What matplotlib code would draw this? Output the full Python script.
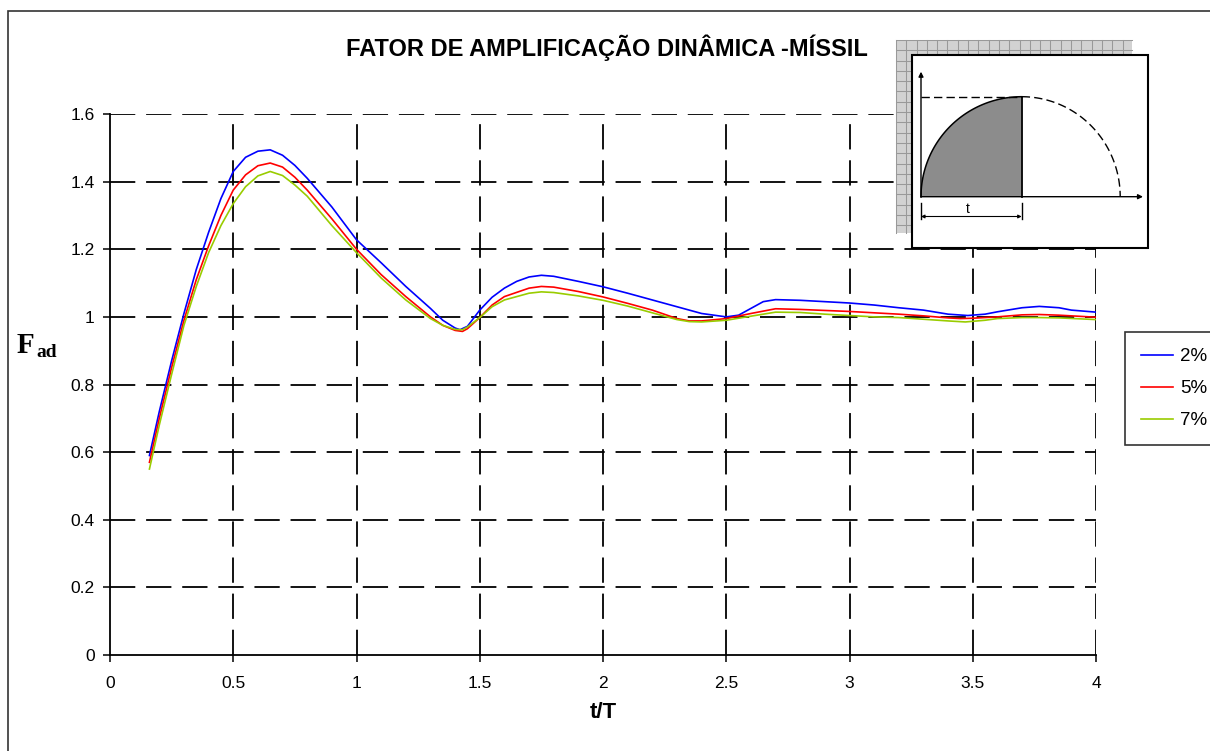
import numpy as np
import matplotlib
matplotlib.use("Agg")
import matplotlib.pyplot as plt
from matplotlib.patches import Rectangle, Polygon

plt.rcParams['font.family'] = ['Liberation Sans', 'DejaVu Sans']

# Dynamic amplification factor vs. t/T for three damping ratios
t_2 = [0.16, 0.20, 0.25, 0.30, 0.35, 0.40, 0.45, 0.50, 0.55, 0.60, 0.65, 0.70,
       0.75, 0.80, 0.90, 1.00, 1.10, 1.20, 1.30, 1.35, 1.40, 1.42, 1.45, 1.50,
       1.55, 1.60, 1.65, 1.70, 1.75, 1.80, 1.90, 2.00, 2.10, 2.20, 2.30, 2.40,
       2.50, 2.55, 2.60, 2.65, 2.70, 2.80, 2.90, 3.00, 3.10, 3.20, 3.30, 3.40,
       3.48, 3.55, 3.60, 3.70, 3.77, 3.85, 3.90, 4.00]
f_2 = [0.59, 0.72, 0.87, 1.01, 1.14, 1.25, 1.35, 1.43, 1.472, 1.490, 1.494, 1.478,
       1.448, 1.41, 1.325, 1.228, 1.16, 1.09, 1.025, 0.99, 0.967, 0.962, 0.972, 1.02,
       1.058, 1.085, 1.105, 1.118, 1.123, 1.12, 1.105, 1.089, 1.07, 1.05, 1.03, 1.01,
       1.0, 1.005, 1.025, 1.045, 1.051, 1.049, 1.045, 1.041, 1.035, 1.027, 1.02, 1.008,
       1.004, 1.008, 1.015, 1.027, 1.031, 1.027, 1.02, 1.014]

t_5 = [0.16, 0.20, 0.25, 0.30, 0.35, 0.40, 0.45, 0.50, 0.55, 0.60, 0.65, 0.70,
       0.75, 0.80, 0.90, 1.00, 1.10, 1.20, 1.30, 1.35, 1.40, 1.43, 1.45, 1.50,
       1.55, 1.60, 1.70, 1.75, 1.80, 1.90, 2.00, 2.10, 2.20, 2.30, 2.35, 2.40,
       2.50, 2.60, 2.70, 2.80, 2.90, 3.00, 3.10, 3.20, 3.30, 3.40, 3.45, 3.50,
       3.60, 3.70, 3.77, 3.85, 3.90, 4.00]
f_5 = [0.57, 0.70, 0.85, 0.99, 1.11, 1.21, 1.30, 1.375, 1.42, 1.447, 1.455, 1.443,
       1.413, 1.375, 1.29, 1.20, 1.125, 1.06, 1.0, 0.975, 0.96, 0.957, 0.965, 0.998,
       1.035, 1.06, 1.085, 1.09, 1.088, 1.075, 1.059, 1.04, 1.02, 0.995, 0.988, 0.988,
       0.995, 1.01, 1.024, 1.022, 1.019, 1.016, 1.012, 1.008, 1.003, 0.997, 0.995, 0.996,
       1.0, 1.006, 1.007, 1.005, 1.003, 0.999]

t_7 = [0.16, 0.20, 0.25, 0.30, 0.35, 0.40, 0.45, 0.50, 0.55, 0.60, 0.65, 0.70,
       0.75, 0.80, 0.90, 1.00, 1.10, 1.20, 1.30, 1.35, 1.40, 1.43, 1.45, 1.50,
       1.55, 1.60, 1.70, 1.75, 1.80, 1.90, 2.00, 2.10, 2.20, 2.30, 2.35, 2.40,
       2.50, 2.60, 2.70, 2.80, 2.90, 3.00, 3.10, 3.20, 3.30, 3.40, 3.47, 3.55,
       3.60, 3.70, 3.77, 3.85, 4.00]
f_7 = [0.55, 0.68, 0.83, 0.975, 1.09, 1.19, 1.27, 1.335, 1.385, 1.417, 1.43, 1.418,
       1.39, 1.357, 1.27, 1.19, 1.115, 1.05, 0.995, 0.975, 0.963, 0.962, 0.97, 0.998,
       1.03, 1.05, 1.07, 1.074, 1.072, 1.062, 1.049, 1.032, 1.012, 0.992, 0.986, 0.985,
       0.99, 1.002, 1.014, 1.013, 1.008, 1.004, 1.0, 0.998, 0.993, 0.988, 0.985, 0.99,
       0.995, 0.998, 0.998, 0.997, 0.992]

labels = ['2%', '5%', '7%']
colors = ['#0000ff', '#ff0000', '#99cc00']
x_ticks = [0, 0.5, 1, 1.5, 2, 2.5, 3, 3.5, 4]
x_ticklabels = ['0', '0.5', '1', '1.5', '2', '2.5', '3', '3.5', '4']
y_ticks = [0, 0.2, 0.4, 0.6, 0.8, 1.0, 1.2, 1.4, 1.6]
y_ticklabels = ['0', '0.2', '0.4', '0.6', '0.8', '1', '1.2', '1.4', '1.6']

W, H = 1210, 751
fig = plt.figure(figsize=(W / 100, H / 100), dpi=100)
ax = fig.add_axes([110 / W, 1 - 655 / H, (1096 - 110) / W, (655 - 114) / H])

for tt, ff, lab, col in zip([t_2, t_5, t_7], [f_2, f_5, f_7], labels, colors):
    ax.plot(tt, ff, color=col, lw=1.2, label=lab, zorder=3,
            solid_joinstyle='round', antialiased=True)

ax.set_xlim(0, 4)
ax.set_ylim(0, 1.6)
ax.set_xticks(x_ticks)
ax.set_xticklabels(x_ticklabels)
ax.set_yticks(y_ticks)
ax.set_yticklabels(y_ticklabels)
ax.tick_params(direction='out', length=5, width=1.1, labelsize=12.5, colors='black')
ax.tick_params(axis='x', pad=10)
ax.tick_params(axis='y', pad=6)

dash = (0, (14, 6))
for v in x_ticks[1:]:
    ax.axvline(v, color='black', lw=1.3, ls=dash, zorder=1)
for v in y_ticks[1:]:
    ax.axhline(v, color='black', lw=1.3, ls=dash, zorder=1)

for s in ['top', 'right']:
    ax.spines[s].set_visible(False)
for s in ['left', 'bottom']:
    ax.spines[s].set_linewidth(1.3)

ax.set_xlabel('t/T', fontsize=16, fontweight='bold', labelpad=8)

leg_h = 105 / H
leg = fig.legend(loc='upper left', bbox_to_anchor=(1125 / W, 1 - 332 / H - leg_h, 0.12, leg_h),
                 mode='expand', borderaxespad=0, fontsize=13.5, frameon=True,
                 fancybox=False, edgecolor='black', handlelength=1.7,
                 handletextpad=0.4, labelspacing=0.8, borderpad=0.85)
leg.get_frame().set_linewidth(1.2)

fig.text(607 / W, 1 - 48 / H, 'FATOR DE AMPLIFICAÇÃO DINÂMICA -MÍSSIL',
         ha='center', va='center', fontsize=17, fontweight='bold')

# Y-axis symbol F_ad in serif bold
fig.text(17 / W, 1 - 353 / H, 'F', fontsize=21, fontweight='bold',
         family='Liberation Serif', ha='left', va='baseline')
fig.text(36 / W, 1 - 357 / H, 'ad', fontsize=14, fontweight='bold',
         family='Liberation Serif', ha='left', va='baseline')

# Overlay in pixel coordinates: page frame and load-shape sketch
ov = fig.add_axes([0, 0, 1, 1], zorder=5)
ov.set_xlim(0, W)
ov.set_ylim(H, 0)
ov.axis('off')
ov.patch.set_alpha(0)

ov.plot([8, 8, W + 5], [H + 5, 11, 11], color='#333333', lw=1.2, solid_joinstyle='miter')

# checkered shadow behind the sketch box
gx0, gy0, gx1, gy1 = 896, 40, 1131.7, 232.7
ov.add_patch(Rectangle((gx0, gy0), gx1 - gx0, gy1 - gy0, fc='#d2d2d2', ec='none', zorder=1))
for gx in np.arange(gx0, gx1, 10.3):
    ov.plot([gx, gx], [gy0, gy1], color='#999999', lw=0.75, zorder=1.5)
for gy in np.arange(gy0, gy1, 10.3):
    ov.plot([gx0, gx1], [gy, gy], color='#999999', lw=0.75, zorder=1.5)

ov.add_patch(Rectangle((912.3, 55), 236, 193.3, fc='white', ec='black', lw=1.5, zorder=2))

x0, y0, xp, yt = 921, 196.7, 1021.7, 96.7
th = np.linspace(np.pi, np.pi / 2, 60)
arc_x = xp + (xp - x0) * np.cos(th)
arc_y = y0 - (y0 - yt) * np.sin(th)
ov.add_patch(Polygon(np.column_stack([np.r_[arc_x, xp], np.r_[arc_y, y0]]),
                     closed=True, fc='#8c8c8c', ec='none', zorder=3))
ov.plot(arc_x, arc_y, color='black', lw=1.1, zorder=4)
ov.plot([xp, xp], [yt, y0], color='black', lw=1.3, zorder=4)
th2 = np.linspace(np.pi / 2, 0, 60)
ov.plot(xp + 98.5 * np.cos(th2), y0 - (y0 - yt) * np.sin(th2), color='black',
        lw=1.0, ls=(0, (6, 3)), zorder=4)
ov.plot([x0, xp], [yt, yt], color='black', lw=1.0, ls=(0, (6, 3)), zorder=4)

ov.annotate('', xy=(x0, 71.7), xytext=(x0, y0 + 0.5), zorder=4,
            arrowprops=dict(arrowstyle='-|>', lw=1.0, color='black', mutation_scale=7,
                            shrinkA=0, shrinkB=0))
ov.annotate('', xy=(1143, y0), xytext=(x0, y0), zorder=4,
            arrowprops=dict(arrowstyle='-|>', lw=1.0, color='black', mutation_scale=7,
                            shrinkA=0, shrinkB=0))

ov.plot([x0, x0], [203, 218.5], color='black', lw=1.0, zorder=4)
ov.plot([xp, xp], [203, 218.5], color='black', lw=1.0, zorder=4)
ov.annotate('', xy=(x0, 216.5), xytext=(xp, 216.5), zorder=4,
            arrowprops=dict(arrowstyle='<|-|>', lw=0.8, color='black', mutation_scale=5,
                            shrinkA=0, shrinkB=0))
ov.text(968, 209, 't', fontsize=10, ha='center', va='center', zorder=4)

fig.savefig('out.png', dpi=100)
